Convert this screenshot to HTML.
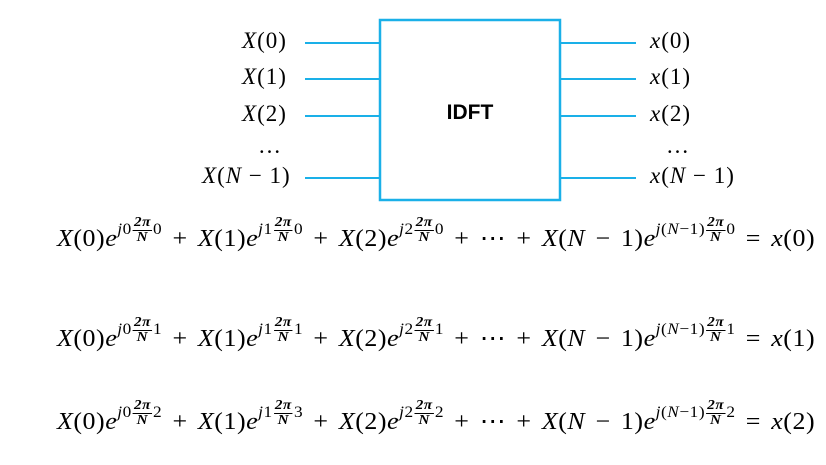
<!DOCTYPE html>
<html><head><style>
body{margin:0;background:#fff;width:826px;height:465px;position:relative;overflow:hidden;font-family:"Liberation Serif",serif;}
.l{position:absolute;font-size:23px;font-style:italic;white-space:nowrap;letter-spacing:1px}
.l span{font-style:normal}
.eq{position:absolute;left:57px;font-size:24px;white-space:nowrap;transform-origin:0 0;transform:scaleX(1.08);word-spacing:3px;letter-spacing:0.5px}
.eq i{font-style:italic}
.sup{position:relative;top:-12px;font-size:16px;}
.fr{display:inline-block;vertical-align:middle;text-align:center;font-size:14px;line-height:14px;margin:0 1px;font-weight:bold;font-style:italic}
.fr .n{border-bottom:1.5px solid #000;padding:0 1px}
</style></head><body>
<svg width="826" height="465" style="position:absolute;left:0;top:0">
<rect x="380" y="20" width="180" height="180" fill="#fff" stroke="#1ab0e8" stroke-width="2.5"/>
<g stroke="#1ab0e8" stroke-width="2">
<line x1="305" y1="43" x2="380" y2="43"/><line x1="305" y1="79" x2="380" y2="79"/>
<line x1="305" y1="116" x2="380" y2="116"/><line x1="305" y1="178" x2="380" y2="178"/>
<line x1="560" y1="43" x2="636" y2="43"/><line x1="560" y1="79" x2="636" y2="79"/>
<line x1="560" y1="116" x2="636" y2="116"/><line x1="560" y1="178" x2="636" y2="178"/>
</g>
<text x="470" y="119" font-family="Liberation Sans" font-weight="bold" font-size="21" text-anchor="middle">IDFT</text>
</svg>
<div class="l" style="left:242px;top:28px">X<span>(0)</span></div>
<div class="l" style="left:242px;top:64px">X<span>(1)</span></div>
<div class="l" style="left:242px;top:101px">X<span>(2)</span></div>
<div class="l" style="left:258px;top:133px"><span>…</span></div>
<div class="l" style="left:202px;top:163px">X<span>(</span>N<span> − 1)</span></div>
<div class="l" style="left:650px;top:28px">x<span>(0)</span></div>
<div class="l" style="left:650px;top:64px">x<span>(1)</span></div>
<div class="l" style="left:650px;top:101px">x<span>(2)</span></div>
<div class="l" style="left:666px;top:133px"><span>…</span></div>
<div class="l" style="left:650px;top:163px">x<span>(</span>N<span> − 1)</span></div>

<div class="eq" style="top:224px"><i>X</i>(0)<i>e</i><span class="sup"><i>j</i>0<span class="fr"><div class="n">2π</div><div>N</div></span>0</span> + <i>X</i>(1)<i>e</i><span class="sup"><i>j</i>1<span class="fr"><div class="n">2π</div><div>N</div></span>0</span> + <i>X</i>(2)<i>e</i><span class="sup"><i>j</i>2<span class="fr"><div class="n">2π</div><div>N</div></span>0</span> + ⋯ + <i>X</i>(<i>N</i> − 1)<i>e</i><span class="sup"><i>j</i>(<i>N</i>−1)<span class="fr"><div class="n">2π</div><div>N</div></span>0</span> = <i>x</i>(0)</div>

<div class="eq" style="top:324px"><i>X</i>(0)<i>e</i><span class="sup"><i>j</i>0<span class="fr"><div class="n">2π</div><div>N</div></span>1</span> + <i>X</i>(1)<i>e</i><span class="sup"><i>j</i>1<span class="fr"><div class="n">2π</div><div>N</div></span>1</span> + <i>X</i>(2)<i>e</i><span class="sup"><i>j</i>2<span class="fr"><div class="n">2π</div><div>N</div></span>1</span> + ⋯ + <i>X</i>(<i>N</i> − 1)<i>e</i><span class="sup"><i>j</i>(<i>N</i>−1)<span class="fr"><div class="n">2π</div><div>N</div></span>1</span> = <i>x</i>(1)</div>

<div class="eq" style="top:407px"><i>X</i>(0)<i>e</i><span class="sup"><i>j</i>0<span class="fr"><div class="n">2π</div><div>N</div></span>2</span> + <i>X</i>(1)<i>e</i><span class="sup"><i>j</i>1<span class="fr"><div class="n">2π</div><div>N</div></span>3</span> + <i>X</i>(2)<i>e</i><span class="sup"><i>j</i>2<span class="fr"><div class="n">2π</div><div>N</div></span>2</span> + ⋯ + <i>X</i>(<i>N</i> − 1)<i>e</i><span class="sup"><i>j</i>(<i>N</i>−1)<span class="fr"><div class="n">2π</div><div>N</div></span>2</span> = <i>x</i>(2)</div>
</body></html>
